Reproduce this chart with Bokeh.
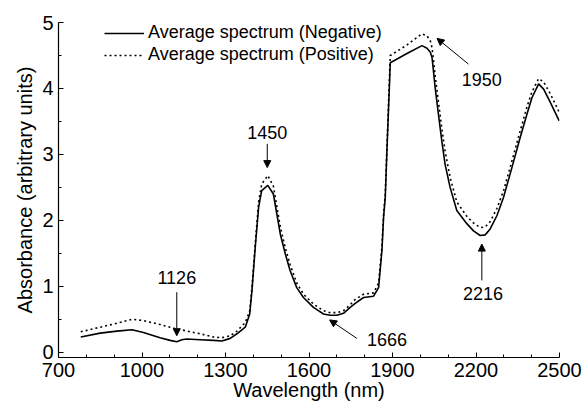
from bokeh.plotting import figure
from bokeh.models import (Range1d, FixedTicker, Legend, LegendItem, Arrow,
                          NormalHead, ColumnDataSource)
from bokeh.core.properties import value
from bokeh.embed import file_html
from bokeh.resources import INLINE

FONT = "Liberation Sans"

# wavelength (nm)
wavelength = [780, 850, 910, 964, 1005, 1065, 1101, 1125, 1143, 1161, 1209, 1257, 1287,
              1317, 1341, 1371, 1387, 1395, 1407, 1419, 1430, 1452, 1472, 1497, 1515,
              1532, 1556, 1580, 1616, 1652, 1676, 1700, 1724, 1748, 1766, 1796, 1832,
              1850, 1862, 1868, 1874, 1880, 1892, 1952, 2006, 2024, 2036, 2042, 2047,
              2053, 2065, 2077, 2089, 2107, 2131, 2167, 2191, 2215, 2233, 2251, 2275,
              2299, 2329, 2359, 2383, 2401, 2425, 2443, 2467, 2499]

negative = [0.23, 0.29, 0.32, 0.34, 0.30, 0.22, 0.18, 0.16, 0.19, 0.20, 0.19, 0.18, 0.17,
            0.21, 0.28, 0.38, 0.58, 0.93, 1.60, 2.20, 2.45, 2.53, 2.40, 1.79, 1.49,
            1.24, 0.98, 0.83, 0.68, 0.58, 0.56, 0.56, 0.59, 0.68, 0.74, 0.83, 0.85,
            0.98, 1.54, 2.05, 2.35, 3.06, 4.39, 4.53, 4.65, 4.61, 4.55, 4.47, 4.27,
            4.02, 3.61, 3.21, 2.85, 2.50, 2.15, 1.95, 1.84, 1.77, 1.78, 1.87, 2.07,
            2.35, 2.80, 3.26, 3.61, 3.86, 4.07, 3.99, 3.79, 3.51]

positive = [0.31, 0.38, 0.44, 0.50, 0.48, 0.42, 0.38, 0.35, 0.34, 0.32, 0.28, 0.23, 0.22,
            0.25, 0.32, 0.45, 0.63, 0.98, 1.65, 2.28, 2.55, 2.68, 2.52, 1.90, 1.58,
            1.33, 1.05, 0.88, 0.73, 0.63, 0.60, 0.60, 0.63, 0.72, 0.80, 0.88, 0.90,
            1.05, 1.60, 2.10, 2.40, 3.10, 4.50, 4.66, 4.83, 4.80, 4.72, 4.62, 4.45,
            4.20, 3.80, 3.40, 3.05, 2.65, 2.28, 2.06, 1.96, 1.89, 1.90, 1.98, 2.18,
            2.45, 2.90, 3.36, 3.72, 3.95, 4.15, 4.10, 3.92, 3.64]

series_names = ["Average spectrum (Negative)", "Average spectrum (Positive)"]

x_ticks = [700, 1000, 1300, 1600, 1900, 2200, 2500]
x_minor = [800, 900, 1100, 1200, 1400, 1500, 1700, 1800, 2000, 2100, 2300, 2400]
y_ticks = [0, 1, 2, 3, 4, 5]
y_minor = [0.5, 1.5, 2.5, 3.5, 4.5]

# annotations: label text, text position, arrow start and end (data units)
ann_text = ["1126", "1450", "1666", "1950", "2216"]
ann_tx = [1125, 1450, 1880, 2221, 2225]
ann_ty = [1.13, 3.33, 0.19, 4.13, 0.89]
arr_x0 = [1125, 1450, 1772, 2173, 2221]
arr_y0 = [0.91, 3.16, 0.21, 4.37, 1.09]
arr_x1 = [1125, 1450, 1674, 2060, 2221]
arr_y1 = [0.25, 2.80, 0.49, 4.76, 1.64]

x_label = "Wavelength (nm)"
y_label = "Absorbance (arbitrary units)"

p = figure(width=584, height=405, output_backend="svg", toolbar_location=None,
           x_range=Range1d(700, 2500), y_range=Range1d(-0.08, 5.001),
           min_border_left=58, min_border_right=25, min_border_top=22, min_border_bottom=48)
p.outline_line_color = None
p.xgrid.visible = False
p.ygrid.visible = False
p.background_fill_color = "white"
p.border_fill_color = "white"

p.xaxis.ticker = FixedTicker(ticks=x_ticks, minor_ticks=x_minor)
p.yaxis.ticker = FixedTicker(ticks=y_ticks, minor_ticks=y_minor)
for ax in (p.xaxis, p.yaxis):
    ax.axis_line_color = "black"
    ax.axis_line_width = 1.2
    ax.major_tick_line_color = "black"
    ax.minor_tick_line_color = "black"
    ax.major_tick_in = 5
    ax.major_tick_out = 0
    ax.minor_tick_in = 3
    ax.minor_tick_out = 0
    ax.major_label_text_font = FONT
    ax.major_label_text_font_size = "20px"
    ax.major_label_text_color = "black"
    ax.axis_label_text_font = FONT
    ax.axis_label_text_font_size = "20px"
    ax.axis_label_text_font_style = "normal"
    ax.axis_label_text_color = "black"
p.xaxis.major_label_standoff = 5
p.yaxis.major_label_standoff = 5
p.xaxis.axis_label = x_label
p.yaxis.axis_label = y_label
p.xaxis.axis_label_standoff = -1
p.yaxis.axis_label_standoff = 3

src = ColumnDataSource(dict(x=wavelength, neg=negative, pos=positive))
r_neg = p.line("x", "neg", source=src, line_color="black", line_width=1.6)
r_pos = p.line("x", "pos", source=src, line_color="black", line_width=1.6, line_dash="2 3")

legend = Legend(items=[LegendItem(label=series_names[0], renderers=[r_neg]),
                       LegendItem(label=series_names[1], renderers=[r_pos])],
                location=(46, 292), padding=0, margin=0, spacing=1,
                glyph_width=40, glyph_height=20, label_height=20, label_standoff=4,
                border_line_color=None, background_fill_alpha=0,
                label_text_font=FONT, label_text_font_size="18px", label_text_color="black")
p.add_layout(legend, "center")

for i in range(len(ann_text)):
    p.add_layout(Arrow(end=NormalHead(size=7, fill_color="black", line_color="black", line_width=1),
                       x_start=arr_x0[i], y_start=arr_y0[i], x_end=arr_x1[i], y_end=arr_y1[i],
                       line_color="black", line_width=1))

p.text(x=ann_tx, y=ann_ty, text=ann_text, text_align="center", text_baseline="middle",
       text_font=value(FONT), text_font_size="18px", text_color="black")

open("out.html", "w").write(file_html(p, INLINE))
